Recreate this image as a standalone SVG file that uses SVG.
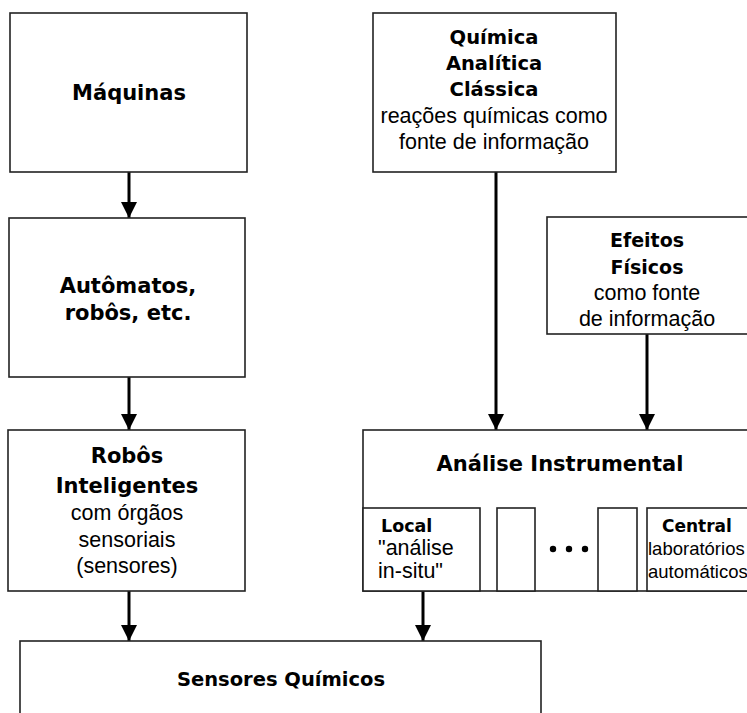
<svg xmlns="http://www.w3.org/2000/svg" width="747" height="713" viewBox="0 0 747 713">
<style>
.box{fill:#fff;stroke:#222;stroke-width:1.6}
.b{font-family:"DejaVu Sans",sans-serif;font-weight:bold;fill:#000;text-anchor:middle}
.r{font-family:"Liberation Sans",Arial,sans-serif;fill:#000;text-anchor:middle;font-size:21.5px}
.ln{stroke:#000;stroke-width:3;fill:none}
</style>
<defs>
<marker id="ah" markerUnits="userSpaceOnUse" markerWidth="16" markerHeight="17" refX="16" refY="8" orient="auto">
<path d="M0,0 L16,8 L0,16 Z" fill="#000"/>
</marker>
</defs>
<rect width="747" height="713" fill="#fff"/>
<g id="connectors">
<line class="ln" x1="129" y1="172" x2="129" y2="218" marker-end="url(#ah)"/>
<line class="ln" x1="129" y1="377" x2="129" y2="430" marker-end="url(#ah)"/>
<line class="ln" x1="129" y1="591" x2="129" y2="641" marker-end="url(#ah)"/>
<line class="ln" x1="423" y1="591" x2="423" y2="641" marker-end="url(#ah)"/>
<line class="ln" x1="496" y1="172" x2="496" y2="430" marker-end="url(#ah)"/>
<line class="ln" x1="647" y1="334" x2="647" y2="430" marker-end="url(#ah)"/>
</g>
<g id="maquinas">
<rect class="box" x="10" y="13" width="237" height="159"/>
<text class="b" x="129" y="100" font-size="21">Máquinas</text>
</g>
<g id="automatos">
<rect class="box" x="9" y="218" width="236" height="159"/>
<text class="b" x="128" y="293" font-size="21">Autômatos,</text>
<text class="b" x="128" y="320" font-size="21">robôs, etc.</text>
</g>
<g id="robos">
<rect class="box" x="8" y="430" width="237" height="161"/>
<text class="b" x="127" y="463" font-size="21">Robôs</text>
<text class="b" x="127" y="493" font-size="21">Inteligentes</text>
<text class="r" x="127" y="520">com órgãos</text>
<text class="r" x="127" y="547">sensoriais</text>
<text class="r" x="127" y="573">(sensores)</text>
</g>
<g id="quimica">
<rect class="box" x="373" y="13" width="243" height="159"/>
<text class="b" x="494" y="44" font-size="19.5">Química</text>
<text class="b" x="494" y="70" font-size="19.5">Analítica</text>
<text class="b" x="494" y="96" font-size="19.5">Clássica</text>
<text class="r" x="494" y="123">reações químicas como</text>
<text class="r" x="494" y="149">fonte de informação</text>
</g>
<g id="efeitos">
<rect class="box" x="547" y="217" width="210" height="117"/>
<text class="b" x="647" y="247" font-size="19">Efeitos</text>
<text class="b" x="647" y="274" font-size="19">Físicos</text>
<text class="r" x="647" y="300">como fonte</text>
<text class="r" x="647" y="326">de informação</text>
</g>
<g id="analise">
<rect class="box" x="363" y="430" width="394" height="161"/>
<text class="b" x="560" y="471" font-size="21">Análise Instrumental</text>
</g>
<g id="local">
<rect class="box" x="363" y="508" width="117" height="83"/>
<text class="b" x="381" y="532" font-size="17.5" style="text-anchor:start">Local</text>
<text class="r" x="378" y="555" style="text-anchor:start">"análise</text>
<text class="r" x="378" y="578" style="text-anchor:start">in-situ"</text>
</g>
<g id="slot1">
<rect class="box" x="497" y="508" width="38" height="83"/>
</g>
<g id="dots">
<circle cx="553" cy="549" r="3.2" fill="#000"/>
<circle cx="569" cy="549" r="3.2" fill="#000"/>
<circle cx="585" cy="549" r="3.2" fill="#000"/>
</g>
<g id="slot2">
<rect class="box" x="598" y="508" width="39" height="83"/>
</g>
<g id="central">
<rect class="box" x="647" y="508" width="110" height="83"/>
<text class="b" x="662" y="532" font-size="17" style="text-anchor:start">Central</text>
<text class="r" x="648" y="555" style="text-anchor:start;font-size:18.5px">laboratórios</text>
<text class="r" x="648" y="578" style="text-anchor:start;font-size:18.5px">automáticos</text>
</g>
<g id="sensores">
<rect class="box" x="20" y="641" width="521" height="90"/>
<text class="b" x="281" y="686" font-size="19.5">Sensores Químicos</text>
</g>
</svg>
